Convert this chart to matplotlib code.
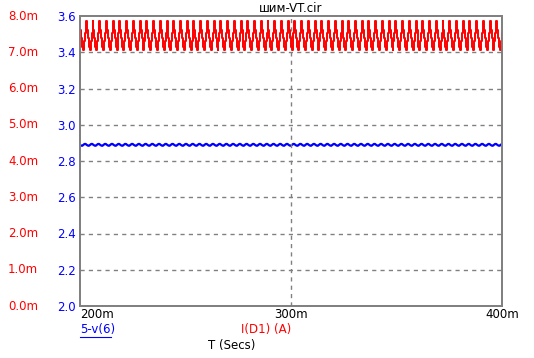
import matplotlib.pyplot as plt
from matplotlib.lines import Line2D
import numpy as np

# valores
t_inicio = 200.0      # ms
t_fin = 400.0         # ms
periodo = 3.19        # ms, un ciclo de la forma de onda
# un ciclo de I(D1) en mA
ciclo_id1 = [7.62, 7.40, 7.15, 7.06, 7.30, 7.52, 7.86]
# un ciclo de 5-v(6) en V
ciclo_v6 = [2.889, 2.885, 2.884, 2.889, 2.894, 2.894]

ticks_v = [2.0, 2.2, 2.4, 2.6, 2.8, 3.0, 3.2, 3.4, 3.6]
ticks_i = ["0.0m", "1.0m", "2.0m", "3.0m", "4.0m", "5.0m", "6.0m", "7.0m", "8.0m"]
ticks_t = [200, 300, 400]
etiquetas_t = ["200m", "300m", "400m"]

n_ciclos = int(np.ceil((t_fin - t_inicio) / periodo)) + 1

def serie(ciclo):
	y = np.tile(ciclo, n_ciclos)
	t = t_inicio + np.arange(len(y)) * periodo / len(ciclo)
	return t, y

t_i, y_i = serie(ciclo_id1)
t_v, y_v = serie(ciclo_v6)

fig = plt.figure(figsize=(5.34, 3.58), dpi=100)
ax = fig.add_axes([80/534, 52/358, 422/534, 290/358])
ax2 = ax.twinx()
ax2.set_position(ax.get_position())

# corriente en mA sobre eje 0..8
ax2.plot(t_i, y_i, color="#ff0000", lw=1.4, drawstyle="steps-post")
ax2.set_ylim(0, 8)
ax2.set_yticks([])
ax.plot(t_v, y_v, color="#0000ff", lw=1.6)
ax.set_ylim(2.0, 3.6)
ax.set_xlim(t_inicio, t_fin)

for v in ticks_v[1:-1]:
	ax.axhline(v, color="#808080", lw=1, ls=(0, (3, 3)))
ax.axvline(300, color="#808080", lw=1, ls=(0, (3, 3)))

for a in (ax, ax2):
	for s in a.spines.values():
		s.set_color("#808080")
		s.set_linewidth(1.3)
	a.tick_params(length=0)

ax.set_yticks(ticks_v)
ax.set_yticklabels(["%.1f" % v for v in ticks_v], color="#0000ff", fontsize=8.5)
ax.tick_params(axis="y", pad=3)
ax.set_xticks([])

fs = 8.5
for v, lab in zip(ticks_v, ticks_i):
	ax.text(-0.099, v, lab, transform=ax.get_yaxis_transform(), color="#ff0000",
		fontsize=fs, ha="right", va="center")

alins = ["left", "center", "center"]
for t, lab, ha in zip(ticks_t, etiquetas_t, alins):
	ax.text(t, -0.03, lab, transform=ax.get_xaxis_transform(), fontsize=fs,
		ha=ha, va="center")

fig.text(291/534, 1 - 8/358, "шим-VT.cir", fontsize=fs, ha="center", va="center")
fig.text(80/534, 1 - 330/358, "5-v(6)", fontsize=fs, color="#0000ff", ha="left", va="center")
fig.add_artist(Line2D([80/534, 111/534], [1 - 337/358, 1 - 337/358], color="#0000ff", lw=0.8))
fig.text(241/534, 1 - 330/358, "I(D1) (A)", fontsize=fs, color="#ff0000", ha="left", va="center")
fig.text(208/534, 1 - 345/358, "T (Secs)", fontsize=fs, color="black", ha="left", va="center")

fig.savefig("out.png", dpi=100)
